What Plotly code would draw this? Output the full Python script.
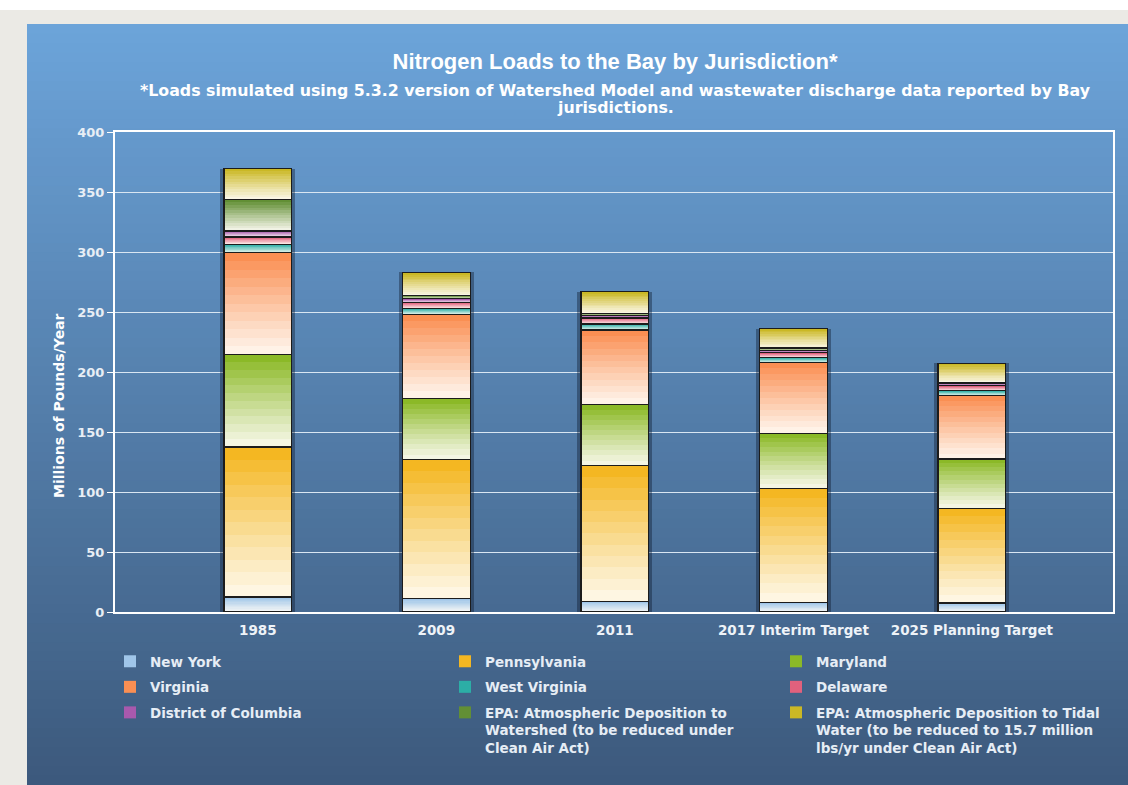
import plotly.graph_objects as go

categories = ["1985", "2009", "2011", "2017 Interim Target", "2025 Planning Target"]

new_york = [12.5, 11, 9, 8, 7.5]
pennsylvania = [125, 116, 113, 95, 79]
maryland = [77, 51, 51, 46, 41]
virginia = [85, 70, 62, 59, 53]
west_virginia = [7, 5, 5, 4, 4]
delaware = [6, 5, 5, 4, 4]
district_of_columbia = [5, 3, 2, 2, 2]
atm_watershed = [26, 3, 2, 2, 1]
atm_tidal = [26, 19, 18, 16, 15.7]

series_names = [
    "New York",
    "Pennsylvania",
    "Maryland",
    "Virginia",
    "West Virginia",
    "Delaware",
    "District of Columbia",
    "EPA: Atmospheric Deposition to<br>Watershed (to be reduced under<br>Clean Air Act)",
    "EPA: Atmospheric Deposition to Tidal<br>Water (to be reduced to 15.7 million<br>lbs/yr under Clean Air Act)",
]
series_values = [new_york, pennsylvania, maryland, virginia, west_virginia,
                 delaware, district_of_columbia, atm_watershed, atm_tidal]
series_colors = ["#9cc4e8", "#f3b418", "#86b61e", "#fa8a4c", "#22aba2",
                 "#e05a78", "#a452aa", "#5b8a2c", "#c8b51c"]
# legend column for each series (3 columns, filled row by row)
series_legend = ["legend", "legend2", "legend3",
                 "legend", "legend2", "legend3",
                 "legend", "legend2", "legend3"]

W, H = 1128, 785
L, R, T, B = 115, 1128 - 1113, 132, 785 - 612
PW, PH = W - L - R, H - T - B
XR = [-0.8, 4.79]
BAR_W = 0.38
N_SLICES = 12


def hex2rgb(h):
    h = h.lstrip("#")
    return tuple(int(h[i:i + 2], 16) for i in (0, 2, 4))


def blend(c, t, base=(255, 252, 246)):
    r, g, b = hex2rgb(c)
    return "rgb(%d,%d,%d)" % tuple(round(base[i] + (x - base[i]) * t) for i, x in enumerate((r, g, b)))


def px2paper_x(px):
    return (px - L) / PW


def px2paper_y(py):
    return (H - B - py) / PH


fig = go.Figure()

# shadow behind bars (main axes)
totals = [sum(v[i] for v in series_values) for i in range(len(categories))]
fig.add_trace(go.Bar(x=categories, y=totals, width=0.42,
                     marker=dict(color="rgba(10,20,40,0.38)", line=dict(width=0)),
                     showlegend=False, hoverinfo="skip", xaxis="x", yaxis="y"))

# gradient slices (overlay axes 2)
for si, (name, vals, col, lg) in enumerate(zip(series_names, series_values, series_colors, series_legend)):
    for k in range(N_SLICES):
        t = 0.06 + 0.94 * ((k + 0.5) / N_SLICES) ** 1.1
        fig.add_trace(go.Bar(
            x=categories, y=[v / N_SLICES for v in vals], width=BAR_W,
            name=name, marker=dict(color=blend(col, t), line=dict(width=0)),
            showlegend=(k == N_SLICES - 1), legend=lg, legendgroup="s%d" % si,
            xaxis="x2", yaxis="y2", hoverinfo="skip",
        ))

# outlines (overlay axes 3)
for si, (name, vals, lg) in enumerate(zip(series_names, series_values, series_legend)):
    fig.add_trace(go.Bar(
        x=categories, y=vals, width=BAR_W, name=name,
        marker=dict(color="rgba(0,0,0,0)", line=dict(color="#1c1c1c", width=1.2)),
        showlegend=False, legend=lg, legendgroup="s%d" % si,
        xaxis="x3", yaxis="y3",
    ))

# background panel gradient
shapes = [dict(type="rect", xref="paper", yref="paper",
               x0=px2paper_x(0), x1=px2paper_x(W), y0=px2paper_y(0), y1=px2paper_y(10),
               fillcolor="#ffffff", line=dict(width=0), layer="below")]
top_c, bot_c = (108, 164, 218), (60, 89, 124)
y_top, y_bot = 24, 785
nb = 80
for i in range(nb):
    f = (i + 0.5) / nb
    c = tuple(round(top_c[j] + (bot_c[j] - top_c[j]) * f) for j in range(3))
    ya = y_top + (y_bot - y_top) * i / nb
    yb = y_top + (y_bot - y_top) * (i + 1) / nb + (2.5 if i < nb - 1 else 0)
    shapes.append(dict(type="rect", xref="paper", yref="paper",
                       x0=px2paper_x(27), x1=px2paper_x(W + 2),
                       y0=px2paper_y(yb), y1=px2paper_y(ya),
                       fillcolor="rgb(%d,%d,%d)" % c, line=dict(width=0), layer="below"))

font_fam = "DejaVu Sans"
axis_common = dict(type="category", range=XR, categoryorder="array", categoryarray=categories)
sub_font = dict(family=font_fam, size=15.8, color="#ffffff", weight="bold")
leg_font = dict(family=font_fam, size=13.5, color="#e6edf5", weight="bold")


def leg(xpx):
    return dict(orientation="v", x=px2paper_x(xpx), y=px2paper_y(646),
                xanchor="left", yanchor="top", traceorder="grouped", valign="top",
                tracegroupgap=5, bgcolor="rgba(0,0,0,0)", font=leg_font)


fig.update_layout(
    width=W, height=H,
    margin=dict(l=L, r=R, t=T, b=B, pad=0),
    paper_bgcolor="#ebeae5",
    plot_bgcolor="rgba(0,0,0,0)",
    barmode="stack",
    shapes=shapes,
    font=dict(family=font_fam, color="#eef3f8"),
    title=dict(text="Nitrogen Loads to the Bay by Jurisdiction*",
               x=px2paper_x(615), xref="paper", xanchor="center",
               y=1 - 61 / H, yref="container", yanchor="middle",
               font=dict(family="Liberation Sans", size=22, color="#ffffff", weight="bold")),
    annotations=[
        dict(text="*Loads simulated using 5.3.2 version of Watershed Model and wastewater discharge data reported by Bay",
             xref="paper", yref="paper", x=px2paper_x(615), y=px2paper_y(90),
             xanchor="center", yanchor="middle", showarrow=False, font=sub_font),
        dict(text="jurisdictions.",
             xref="paper", yref="paper", x=px2paper_x(615), y=px2paper_y(107),
             xanchor="center", yanchor="middle", showarrow=False, font=sub_font),
        dict(text="Millions of Pounds/Year", textangle=-90,
             xref="paper", yref="paper", x=px2paper_x(59), y=px2paper_y(406),
             xanchor="center", yanchor="middle", showarrow=False,
             font=dict(family=font_fam, size=14, color="#ffffff", weight="bold")),
    ],
    xaxis=dict(**axis_common, showgrid=False, showline=True, linecolor="#ffffff", linewidth=2,
               mirror=True, ticks="", tickfont=dict(size=13.5, weight="bold", color="#eef3f8"),
               ticklabelstandoff=5),
    yaxis=dict(range=[0, 400], dtick=50, showgrid=True, gridcolor="#d9e6f2", gridwidth=1,
               showline=True, linecolor="#ffffff", linewidth=2, mirror=True,
               ticks="outside", ticklen=6, tickcolor="#ffffff", zeroline=False,
               tickfont=dict(size=13, weight="bold", color="#e8eef5")),
    xaxis2=dict(**axis_common, overlaying="x", visible=False),
    yaxis2=dict(range=[0, 400], overlaying="y", visible=False),
    xaxis3=dict(**axis_common, overlaying="x", visible=False),
    yaxis3=dict(range=[0, 400], overlaying="y", visible=False),
    legend=leg(110),
    legend2=leg(445),
    legend3=leg(776),
)

fig.write_html("out.html")
